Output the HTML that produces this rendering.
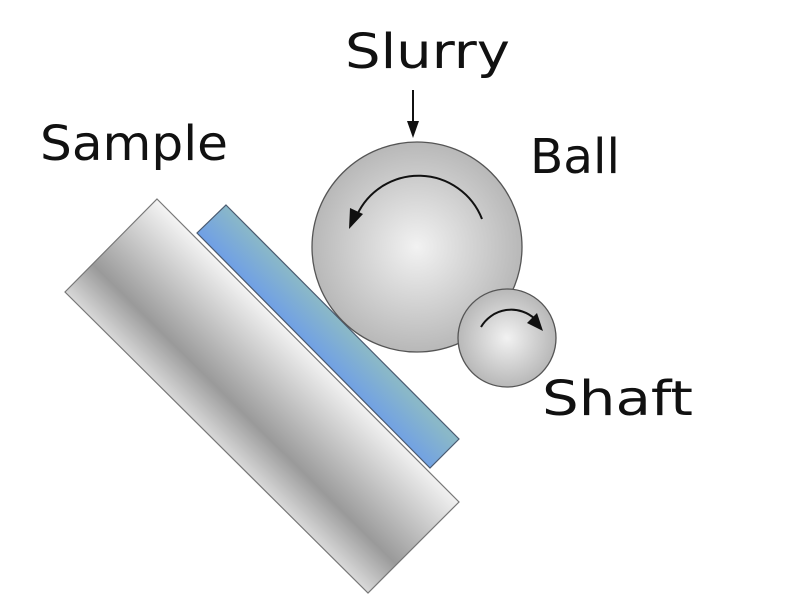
<!DOCTYPE html>
<html><head><style>html,body{margin:0;padding:0;background:#fff;}</style></head>
<body>
<svg width="800" height="600" viewBox="0 0 800 600" xmlns="http://www.w3.org/2000/svg">
<defs>
<linearGradient id="gr" gradientUnits="userSpaceOnUse" x1="65" y1="292" x2="157" y2="199">
<stop offset="0" stop-color="#d8d8d8"/>
<stop offset="0.3" stop-color="#9a9a9a"/>
<stop offset="1" stop-color="#f4f4f4"/>
</linearGradient>
<linearGradient id="bl" gradientUnits="userSpaceOnUse" x1="197" y1="233" x2="226" y2="205">
<stop offset="0" stop-color="#6f9fe6"/>
<stop offset="1" stop-color="#8ab8c8"/>
</linearGradient>
<radialGradient id="ball" cx="0.5" cy="0.5" r="0.5">
<stop offset="0" stop-color="#f2f2f2"/>
<stop offset="1" stop-color="#b8b8b8"/>
</radialGradient>
</defs>
<polygon points="157,199 459,502 368,593 65,292" fill="url(#gr)" stroke="#777" stroke-width="1.2"/>
<polygon points="226,205 459,439 430,468 197,233" fill="url(#bl)" stroke="#4a5a70" stroke-width="1.2"/>
<circle cx="417" cy="247" r="105" fill="url(#ball)" stroke="#555" stroke-width="1.3"/>
<circle cx="507" cy="338" r="49" fill="url(#ball)" stroke="#555" stroke-width="1.3"/>
<path d="M482,219 A68,68 0 0 0 357,215" fill="none" stroke="#111" stroke-width="2"/>
<polygon points="349,229 350,208 363,214" fill="#111"/>
<path d="M481,327 A35,35 0 0 1 535,319" fill="none" stroke="#111" stroke-width="2"/>
<polygon points="543,331 527,323 537,313" fill="#111"/>
<line x1="413" y1="90" x2="413" y2="125" stroke="#111" stroke-width="2"/>
<polygon points="407,121 419,121 413,138" fill="#111"/>
<g font-family="'DejaVu Sans', 'Liberation Sans', sans-serif" font-size="48" fill="#111">
<text x="345" y="68" textLength="165" lengthAdjust="spacingAndGlyphs">Slurry</text>
<text x="40" y="160" textLength="188" lengthAdjust="spacingAndGlyphs">Sample</text>
<text x="530" y="173" textLength="90" lengthAdjust="spacingAndGlyphs">Ball</text>
<text x="542" y="415" textLength="151" lengthAdjust="spacingAndGlyphs">Shaft</text>
</g>
</svg>
</body></html>
